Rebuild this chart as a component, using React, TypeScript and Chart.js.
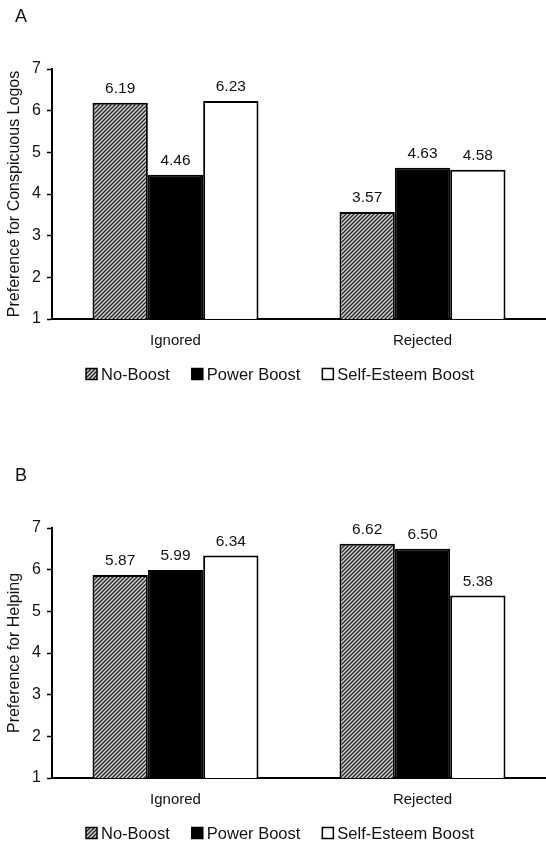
import React, { useEffect, useRef } from "react";
import { Chart, registerables } from "chart.js";

Chart.register(...registerables);

const categories = ["Ignored", "Rejected"];
const seriesNames = ["No-Boost", "Power Boost", "Self-Esteem Boost"];
const logosNoBoost = [6.19, 3.57];
const logosPower = [4.46, 4.63];
const logosSelfEsteem = [6.23, 4.58];
const helpNoBoost = [5.87, 6.62];
const helpPower = [5.99, 6.5];
const helpSelfEsteem = [6.34, 5.38];
const yTicks = [1, 2, 3, 4, 5, 6, 7];

const FONT = "Arial, 'Liberation Sans', Helvetica, sans-serif";
const TEXT = "#111";

function makeHatch(): CanvasPattern | string {
  const c = document.createElement("canvas");
  c.width = 4;
  c.height = 4;
  const g = c.getContext("2d");
  if (!g) return "#888";
  g.fillStyle = "#d8d8d8";
  g.fillRect(0, 0, 4, 4);
  g.strokeStyle = "#2a2a2a";
  g.lineWidth = 1.5;
  g.beginPath();
  g.moveTo(-1, 5);
  g.lineTo(5, -1);
  g.moveTo(-1, 1);
  g.lineTo(1, -1);
  g.moveTo(3, 5);
  g.lineTo(5, 3);
  g.stroke();
  return g.createPattern(c, "repeat") || "#888";
}

type PanelProps = {
  letter: string;
  yTitle: string;
  values: number[][];
  top: number;
  bottom: number;
  legendY: number;
  height: number;
};

function Panel({ letter, yTitle, values, top, bottom, legendY, height }: PanelProps) {
  const ref = useRef<HTMLCanvasElement | null>(null);
  useEffect(() => {
    if (!ref.current) return;
    const hatch = makeHatch();
    const fills: (string | CanvasPattern)[] = [hatch, "#000000", "#ffffff"];

    const extras = {
      id: "extras",
      afterDatasetsDraw(chart: any) {
        const ctx = chart.ctx;
        ctx.save();
        ctx.fillStyle = TEXT;
        ctx.font = `15.5px ${FONT}`;
        ctx.textAlign = "center";
        ctx.textBaseline = "middle";
        chart.data.datasets.forEach((ds: any, i: number) => {
          const meta = chart.getDatasetMeta(i);
          meta.data.forEach((el: any, j: number) => {
            ctx.fillText(Number(ds.data[j]).toFixed(2), el.x, el.y - 14);
          });
        });
        ctx.restore();
      },
      afterDraw(chart: any) {
        const ctx = chart.ctx;
        ctx.save();
        ctx.fillStyle = TEXT;
        ctx.font = `18px ${FONT}`;
        ctx.textAlign = "left";
        ctx.textBaseline = "middle";
        ctx.fillText(letter, 15, letter === "A" ? 17 : 54);
        ctx.font = `16.5px ${FONT}`;
        const box = 11;
        const gapText = 4;
        const gapItem = 22;
        const items = chart.data.datasets.map((ds: any) => ({
          label: ds.label,
          fill: ds.backgroundColor,
          w: box + gapText + ctx.measureText(ds.label).width,
        }));
        const total = items.reduce((s: number, it: any) => s + it.w, 0) + gapItem * (items.length - 1);
        let x = 280 - total / 2;
        items.forEach((it: any) => {
          ctx.fillStyle = it.fill;
          ctx.fillRect(x, legendY - box / 2, box, box);
          ctx.lineWidth = 1.5;
          ctx.strokeStyle = "#000";
          ctx.strokeRect(x, legendY - box / 2, box, box);
          ctx.fillStyle = TEXT;
          ctx.textBaseline = "middle";
          ctx.fillText(it.label, x + box + gapText, legendY + 1);
          x += it.w + gapItem;
        });
        ctx.restore();
      },
    };

    const chart = new Chart(ref.current, {
      type: "bar",
      data: {
        labels: categories,
        datasets: seriesNames.map((name, i) => ({
          label: name,
          data: values[i],
          backgroundColor: fills[i] as any,
          borderColor: "#000",
          borderWidth: 2,
          borderSkipped: "bottom" as any,
          categoryPercentage: 0.672,
          barPercentage: 1.0,
        })),
      },
      options: {
        responsive: false,
        animation: false,
        devicePixelRatio: 1,
        layout: { padding: { top: top, left: 0, right: 0, bottom: 0 } },
        plugins: {
          legend: { display: false },
          title: { display: false },
          tooltip: { enabled: false },
        },
        scales: {
          x: {
            grid: { display: false, drawTicks: false },
            border: { display: true, color: "#000", width: 2 },
            ticks: { color: TEXT, font: { family: FONT, size: 15 }, padding: 13 },
            afterFit(scale: any) {
              scale.height = height - bottom;
            },
          },
          y: {
            min: 1,
            max: 7,
            afterBuildTicks(scale: any) {
              scale.ticks = yTicks.map((v) => ({ value: v }));
            },
            grid: {
              drawOnChartArea: false,
              drawTicks: true,
              tickLength: 5,
              tickColor: "#000",
              tickWidth: 1.5,
            },
            border: { display: true, color: "#000", width: 2 },
            ticks: { color: TEXT, font: { family: FONT, size: 16 }, padding: 6 },
            title: {
              display: true,
              text: yTitle,
              color: TEXT,
              font: { family: FONT, size: 16 },
              padding: { top: 5, bottom: 0 },
            },
            afterFit(scale: any) {
              scale.width = 52;
            },
          },
        },
      },
      plugins: [extras],
    });
    return () => chart.destroy();
  }, []);
  return <canvas ref={ref} width={546} height={height} style={{ display: "block", width: 546, height }} />;
}

export default function App() {
  return (
    <div style={{ position: "absolute", left: 0, top: 0, width: 546, height: 844, background: "#fff" }}>
      <Panel
        letter="A"
        yTitle="Preference for Conspicuous Logos"
        values={[logosNoBoost, logosPower, logosSelfEsteem]}
        top={69}
        bottom={319}
        legendY={374}
        height={422}
      />
      <Panel
        letter="B"
        yTitle="Preference for Helping"
        values={[helpNoBoost, helpPower, helpSelfEsteem]}
        top={106}
        bottom={356}
        legendY={411}
        height={422}
      />
    </div>
  );
}
